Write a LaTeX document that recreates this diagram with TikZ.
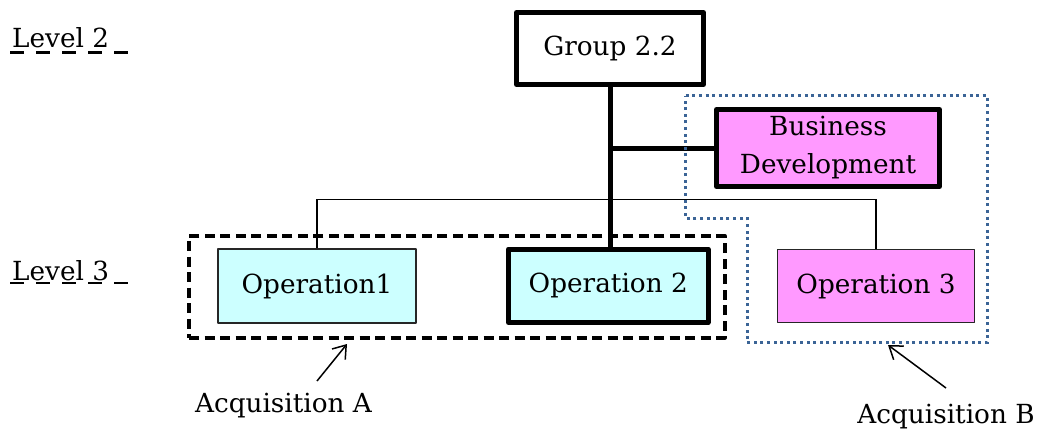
\documentclass[tikz,border=0pt]{standalone}
\usepackage{fontspec}
\setmainfont{DejaVu Serif}
\usetikzlibrary{arrows.meta}
\definecolor{opcyan}{RGB}{204,255,255}
\definecolor{oppink}{RGB}{255,153,255}
\definecolor{dotblue}{RGB}{59,100,150}
\tikzset{
  lbl/.style={font=\fontsize{26.3}{38}\selectfont, inner sep=0pt},
  unitbox/.style={draw, rectangle, lbl, align=center, line join=round},
  thinbox/.style={unitbox, line width=1.2pt, draw=black!85},
  thickbox/.style={unitbox, line width=5pt},
  trunk/.style={line width=5pt},
  busline/.style={line width=1.4pt},
  acqdash/.style={draw, line width=4pt, dash pattern=on 10pt off 5.5pt, line join=round},
  acqdot/.style={draw=dotblue, line width=3pt, dash pattern=on 3pt off 3.6pt},
  levelrule/.style={line width=2.6pt, dash pattern=on 14pt off 12pt},
  pointer/.style={line width=1.5pt, -{Straight Barb[length=12pt,width=17pt]}}
}
\begin{document}
\begin{tikzpicture}[x=1pt,y=-1pt]
\path[use as bounding box] (0,0) rectangle (1043,431);

% level labels with dashed rules
\node[lbl, anchor=base west] (lv2) at (12,47) {Level 2};
\draw[levelrule] (10,52.5) -- (130,52.5);
\node[lbl, anchor=base west] (lv3) at (12,280) {Level 3};
\draw[levelrule] (10,283) -- (130,283);

% acquisition A frame
\node[acqdash, minimum width=535.7pt, minimum height=101.5pt] (acqA) at (456.85,286.75) {};

% units
\node[thickbox, minimum width=187pt, minimum height=72pt] (grp) at (610,48.5) {Group 2.2};
\node[thickbox, fill=oppink, minimum width=223pt, minimum height=77pt] (bd) at (828,148) {Business\\Development};
\node[thinbox, fill=opcyan, minimum width=198pt, minimum height=74pt] (op1) at (317,286) {Operation1};
\node[thickbox, fill=opcyan, minimum width=199.5pt, minimum height=73.5pt] (op2) at (608.25,285.75) {Operation 2};
\node[thinbox, fill=oppink, minimum width=197pt, minimum height=73pt] (op3) at (876,286) {Operation 3};

% reporting lines
\coordinate (bus) at (600,199.5);
\draw[busline] (op1.north) |- (bus) -| (op3.north);
\draw[trunk] (grp.south) -- (grp.south |- op2.north);
\draw[trunk] (bd.west) -- (bd.west -| grp.south);

% acquisition B frame
\draw[acqdot] (685.7,95.5) -- (987,95.5) -- (987,342.7) -- (747,342.7)
  -- (747,218.3) -- (685.7,218.3) -- cycle;

% captions and pointers
\node[lbl, anchor=base] (capA) at (283.5,412) {Acquisition A};
\node[lbl, anchor=base] (capB) at (946,423) {Acquisition B};
\coordinate (tailA) at (317,381);
\coordinate (tipA) at (347,344);
\coordinate (tailB) at (946,388);
\coordinate (tipB) at (888,345);
\draw[pointer] (tailA) -- (tipA);
\draw[pointer] (tailB) -- (tipB);
\end{tikzpicture}
\end{document}
